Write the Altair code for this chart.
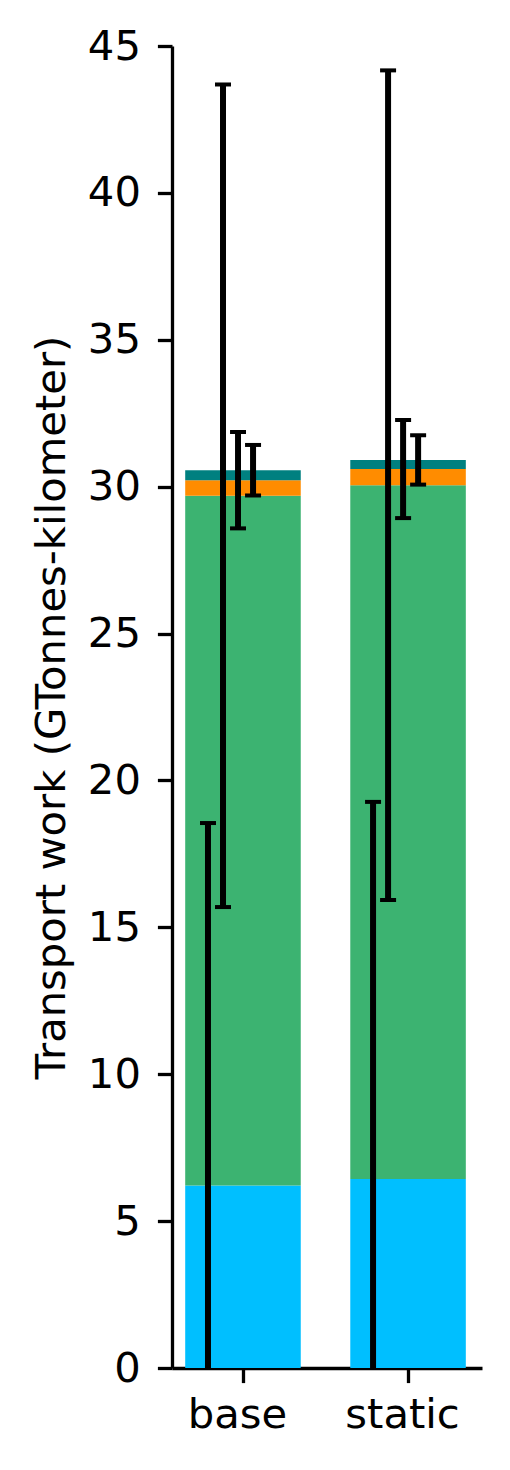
import altair as alt
import pandas as pd

# ---- data ----
categories = ["base", "static"]
series = ["s1", "s2", "s3", "s4"]
series_colors = ["#00BFFF", "#3CB371", "#FF8C00", "#008080"]
base_values = [6.21, 23.48, 0.53, 0.34]
static_values = [6.43, 23.62, 0.55, 0.31]
base_errors = [12.34, 14.00, 1.64, 0.86]
static_errors = [12.84, 14.12, 1.67, 0.84]
y_ticks = [0, 5, 10, 15, 20, 25, 30, 35, 40, 45]
y_title = "Transport work (GTonnes-kilometer)"

values_by_cat = [base_values, static_values]
errors_by_cat = [base_errors, static_errors]

rows = []
for ci, cat in enumerate(categories):
    cum = 0.0
    for si, s in enumerate(series):
        v = values_by_cat[ci][si]
        e = errors_by_cat[ci][si]
        start = cum
        cum += v
        rows.append({
            "category": cat, "ci": ci, "series": s, "si": si,
            "start": start, "end": cum,
            "lower": cum - e, "upper": cum + e,
        })
df = pd.DataFrame(rows)

FONT = "DejaVu Sans"
FS = 41.7
LW = 3.3

label_expr = "[" + ",".join("'%s'" % c for c in categories) + "][datum.value]"

x_scale = alt.Scale(domain=[-0.43, 1.448], nice=False, zero=False)
y_scale = alt.Scale(domain=[0, 45], nice=False, zero=True)

x_axis = alt.Axis(values=list(range(len(categories))), labelExpr=label_expr,
                  title=None, labelPadding=12, labelAngle=0, labelOffset=-6)
y_axis = alt.Axis(values=y_ticks, title=y_title, labelPadding=17, titlePadding=14)

base = alt.Chart(df)

bars = base.transform_calculate(
    x0="datum.ci - 0.35", x1="datum.ci + 0.35"
).mark_rect().encode(
    x=alt.X("x0:Q", scale=x_scale, axis=x_axis),
    x2="x1:Q",
    y=alt.Y("start:Q", scale=y_scale, axis=y_axis),
    y2="end:Q",
    color=alt.Color("series:N", scale=alt.Scale(domain=series, range=series_colors),
                    legend=None),
)

eb = base.transform_calculate(xe="datum.ci - 0.212 + 0.091 * datum.si")

rules = eb.mark_rule(color="black", strokeWidth=6, clip=True).encode(
    x=alt.X("xe:Q", scale=x_scale, axis=x_axis),
    y=alt.Y("lower:Q", scale=y_scale, axis=y_axis),
    y2="upper:Q",
)
cap_hi = eb.mark_tick(color="black", size=16, thickness=4, orient="horizontal",
                      clip=True, opacity=1).encode(
    x=alt.X("xe:Q", scale=x_scale, axis=x_axis),
    y=alt.Y("upper:Q", scale=y_scale, axis=y_axis),
)
cap_lo = eb.mark_tick(color="black", size=16, thickness=4, orient="horizontal",
                      clip=True, opacity=1).encode(
    x=alt.X("xe:Q", scale=x_scale, axis=x_axis),
    y=alt.Y("lower:Q", scale=y_scale, axis=y_axis),
)

chart = alt.layer(bars, rules, cap_hi, cap_lo).properties(
    width=310, height=1322,
    autosize=alt.AutoSizeParams(type="none"),
    padding={"left": 164, "top": 38, "right": 20, "bottom": 90},
).configure_view(stroke=None).configure_axis(
    labelFont=FONT, titleFont=FONT, labelFontSize=FS, titleFontSize=FS,
    titleFontWeight="normal", labelColor="black", titleColor="black",
    domainColor="black", tickColor="black", domainWidth=LW, tickWidth=LW,
    tickSize=14.6, grid=False,
)

chart.save("out.html", embed_options={"renderer": "svg", "actions": False})
